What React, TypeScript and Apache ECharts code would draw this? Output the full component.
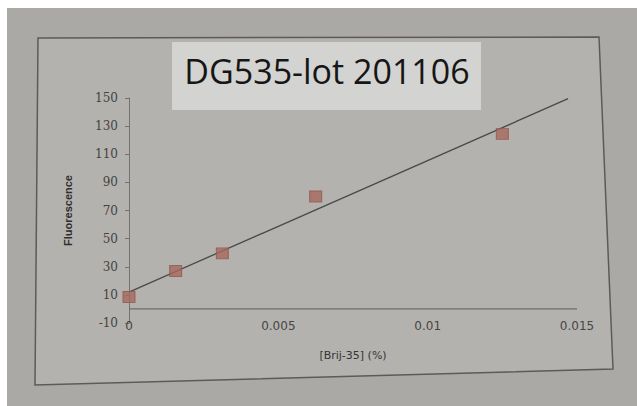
import React, { useEffect, useRef } from "react";
import * as echarts from "echarts";

const concentrations = [0, 0.0015625, 0.003125, 0.00625, 0.0125];
const fluorescence = [8.5, 27, 39.5, 80, 124.5];
const trendX = [0, 0.0147];
const trendY = [12, 149.5];
const zeroLineX = [0, 0.015];
const titleText = "DG535-lot 201106";
const xName = "[Brij-35] (%)";
const yName = "Fluorescence";

export default function App() {
  const ref = useRef<HTMLDivElement>(null);
  useEffect(() => {
    if (!ref.current) return;
    const chart = echarts.init(ref.current, null, { renderer: "svg" });
    chart.setOption({
      animation: false,
      backgroundColor: "#aba9a6",
      graphic: [
        {
          type: "polygon",
          z: -10,
          shape: { points: [[31, 30], [592, 29], [606, 361], [28, 377]] },
          style: { fill: "#b3b2af", stroke: "#5c5b58", lineWidth: 1.5 },
        },
        {
          type: "rect",
          z: 10,
          shape: { x: 165, y: 34, width: 309, height: 68 },
          style: { fill: "#d3d3d1" },
        },
        {
          type: "text",
          z: 11,
          x: 320,
          y: 63,
          style: {
            text: titleText,
            fill: "#161616",
            font: "34px 'Open Sans'",
            align: "center",
            verticalAlign: "middle",
          },
        },
      ],
      grid: { left: 122, right: 60, top: 90, bottom: 83 },
      xAxis: {
        type: "value",
        min: 0,
        max: 0.015,
        interval: 0.005,
        name: xName,
        nameLocation: "middle",
        nameGap: 27,
        nameTextStyle: { fontFamily: "DejaVu Sans", fontSize: 11, color: "#363533" },
        axisLine: { show: false, onZero: false },
        axisTick: { show: false },
        axisLabel: {
          margin: -3,
          fontFamily: "DejaVu Sans",
          fontSize: 12,
          color: "#474644",
          formatter: (v: number) => String(+v.toFixed(4)),
        },
        splitLine: { show: false },
      },
      yAxis: {
        type: "value",
        min: -10,
        max: 150,
        interval: 20,
        name: yName,
        nameLocation: "middle",
        nameGap: 56,
        nameTextStyle: { fontFamily: "Liberation Sans", fontSize: 11, fontWeight: "bold", color: "#2e2d2b" },
        axisLine: { show: true, lineStyle: { color: "#737270", width: 1 } },
        axisTick: { show: true, length: 4, lineStyle: { color: "#737270" } },
        axisLabel: {
          margin: 11,
          fontFamily: "DejaVu Serif",
          fontSize: 12,
          color: "#444341",
        },
        splitLine: { show: false },
      },
      series: [
        {
          type: "line",
          data: zeroLineX.map((x) => [x, 0]),
          showSymbol: false,
          silent: true,
          lineStyle: { color: "#6d6c69", width: 1.2 },
          z: 1,
        },
        {
          type: "line",
          data: trendX.map((x, i) => [x, trendY[i]]),
          showSymbol: false,
          lineStyle: { color: "#4a4a48", width: 1.3 },
          z: 2,
        },
        {
          type: "scatter",
          data: concentrations.map((x, i) => [x, fluorescence[i]]),
          symbol: "rect",
          symbolSize: [12, 11],
          itemStyle: { color: "#a5685c", borderColor: "#94574c", borderWidth: 1 },
          z: 3,
        },
      ],
    });
    return () => chart.dispose();
  }, []);
  return (
    <div
      ref={ref}
      style={{ position: "fixed", left: 7, top: 8, width: 630, height: 398 }}
    />
  );
}
